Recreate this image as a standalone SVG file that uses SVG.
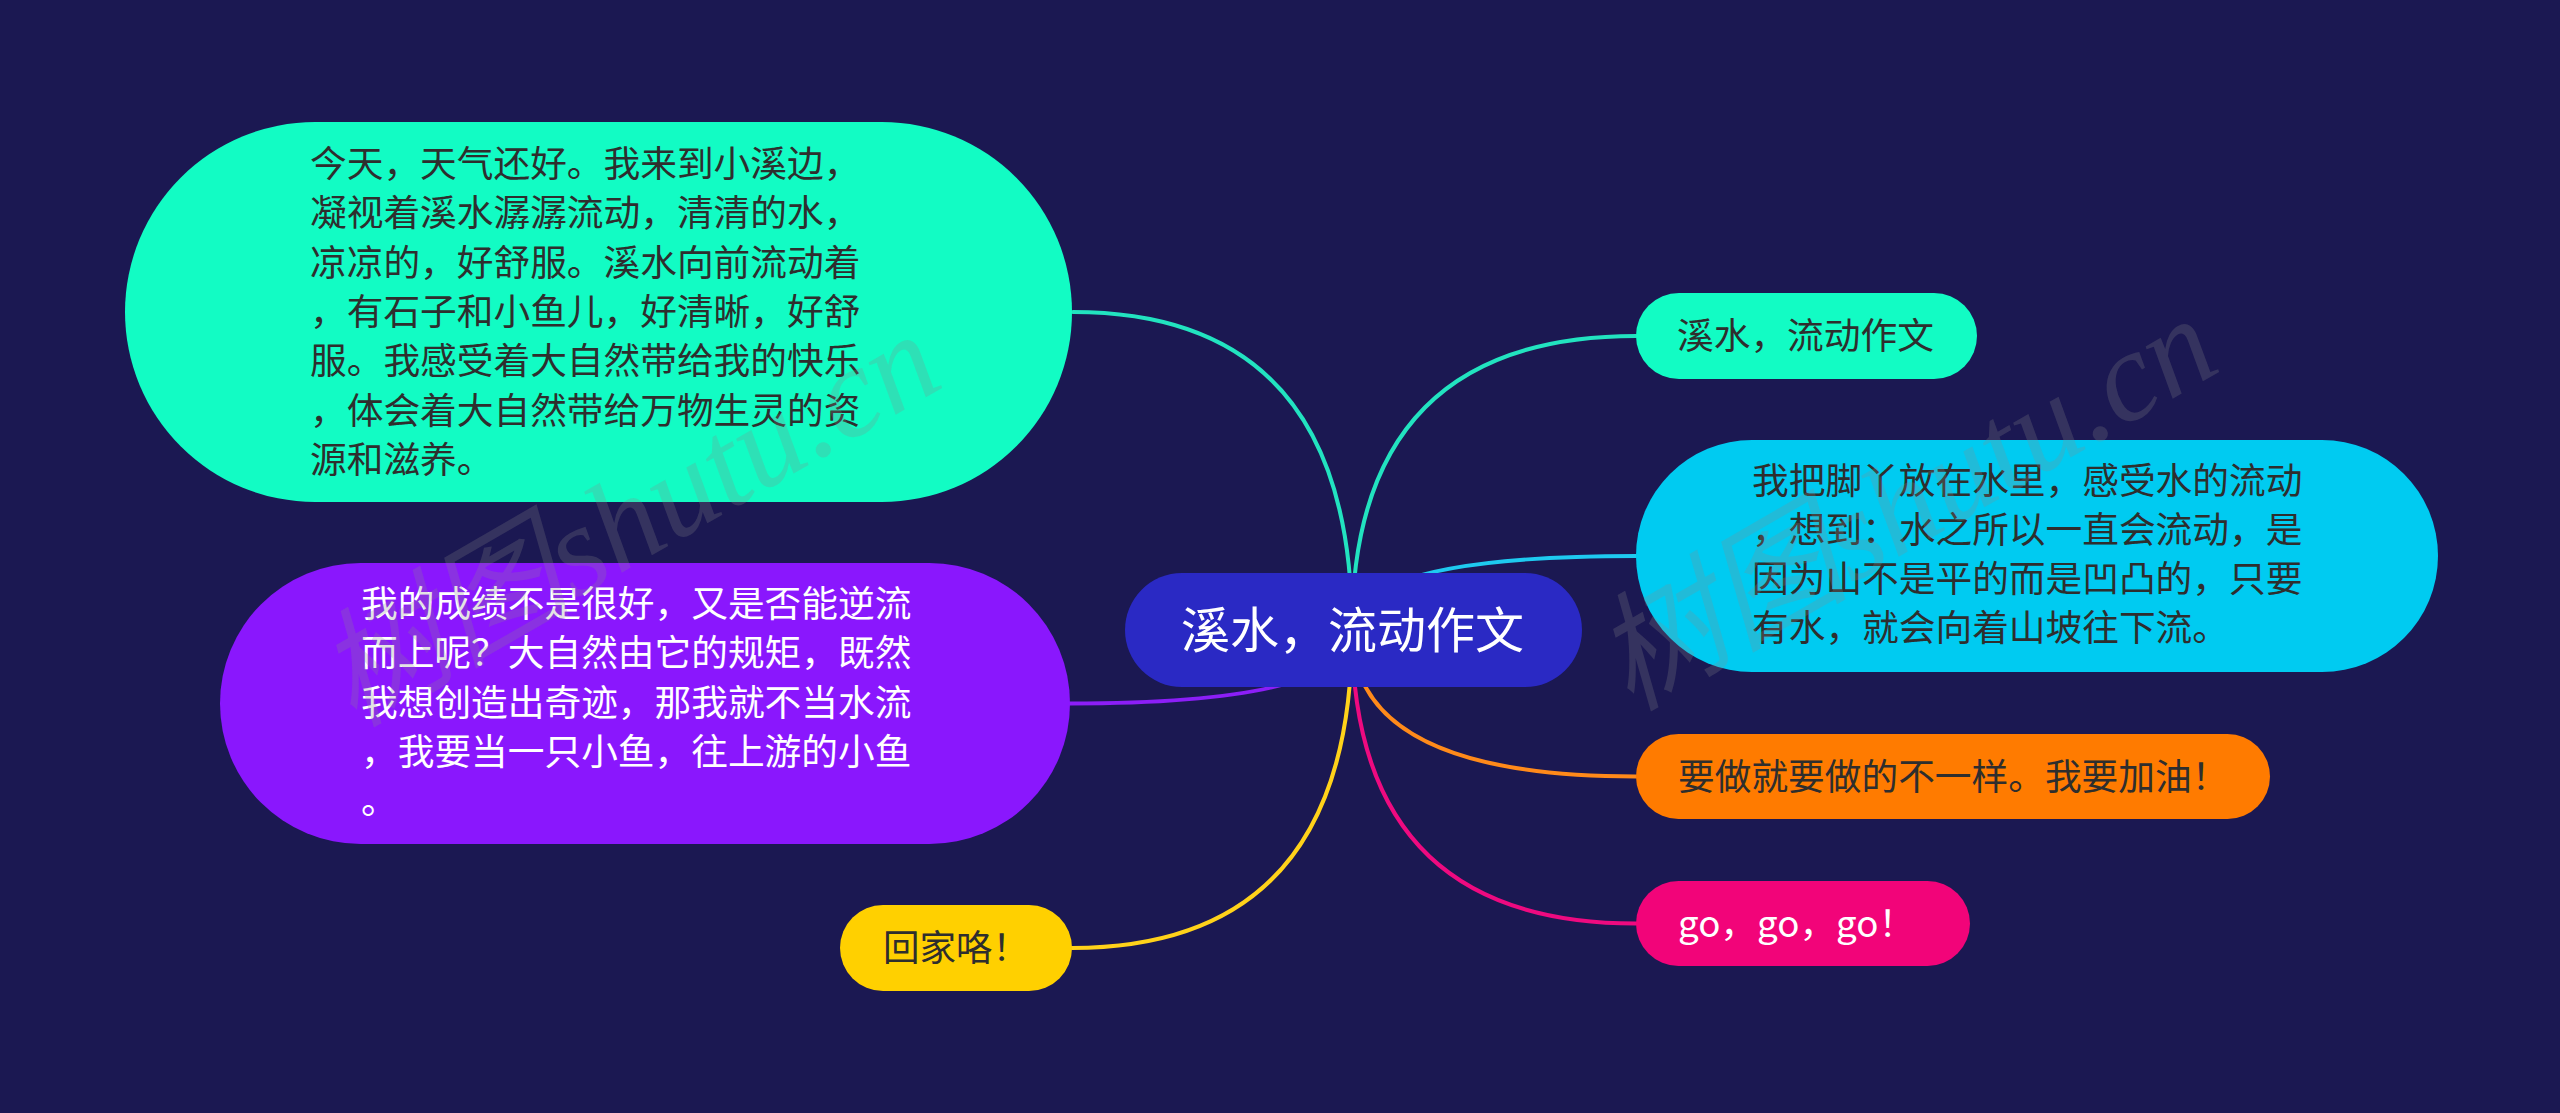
<svg xmlns="http://www.w3.org/2000/svg" width="2560" height="1113" viewBox="0 0 2560 1113">
<style>
.t{font-family:"Noto Sans CJK SC","Noto Sans",sans-serif;font-size:36.7px}
.dk{fill:#2e2e2e}
.wt{fill:#ffffff}
.ln{fill:none;stroke-width:4;stroke-linecap:round}
.wm{font-family:"Liberation Serif","Noto Sans CJK SC",serif;font-style:italic;font-size:128px;fill:#8a8a8a;fill-opacity:0.24}
</style>
<rect x="0" y="0" width="2560" height="1113" fill="#1b1852"/>
<g id="connectors">
<path class="ln" stroke="#22e3c0" d="M1352,630 Q1352,312 1073,312"/>
<path class="ln" stroke="#22e3c0" d="M1352,630 Q1352,336 1636,336"/>
<path class="ln" stroke="#1ecaf0" d="M1352,630 Q1352,556 1636,556"/>
<path class="ln" stroke="#8c1ef7" d="M1352,630 Q1352,703.5 1070,703.5"/>
<path class="ln" stroke="#ff8a1a" d="M1352,630 Q1352,776.5 1636,776.5"/>
<path class="ln" stroke="#ee0a80" d="M1352,630 Q1352,923.5 1636,923.5"/>
<path class="ln" stroke="#ffd21a" d="M1352,630 Q1352,948 1072,948"/>
</g>
<g id="center">
<rect x="1125" y="573" width="457" height="114" rx="57" fill="#2a29c4"/>
<text class="t wt" x="1181" y="648" style="font-size:49px">溪水，流动作文</text>
</g>
<g id="n1">
<rect x="125" y="122" width="947" height="380" rx="190" fill="#12fcc4"/>
<text class="t dk" x="310">
<tspan x="310" y="177">今天，天气还好。我来到小溪边，</tspan>
<tspan x="310" y="226">凝视着溪水潺潺流动，清清的水，</tspan>
<tspan x="310" y="276">凉凉的，好舒服。溪水向前流动着</tspan>
<tspan x="310" y="325">，有石子和小鱼儿，好清晰，好舒</tspan>
<tspan x="310" y="374">服。我感受着大自然带给我的快乐</tspan>
<tspan x="310" y="424">，体会着大自然带给万物生灵的资</tspan>
<tspan x="310" y="473">源和滋养。</tspan>
</text>
</g>
<g id="n2">
<rect x="220" y="563" width="850" height="281" rx="140.5" fill="#8a17fd"/>
<text class="t wt">
<tspan x="361" y="617">我的成绩不是很好，又是否能逆流</tspan>
<tspan x="361" y="666">而上呢？大自然由它的规矩，既然</tspan>
<tspan x="361" y="716">我想创造出奇迹，那我就不当水流</tspan>
<tspan x="361" y="765">，我要当一只小鱼，往上游的小鱼</tspan>
<tspan x="361" y="814">。</tspan>
</text>
</g>
<g id="n3">
<rect x="840" y="905" width="232" height="86" rx="43" fill="#ffd000"/>
<text class="t dk" x="883" y="961" style="font-size:36.5px">回家咯！</text>
</g>
<g id="n4">
<rect x="1636" y="293" width="341" height="86" rx="43" fill="#12fcc4"/>
<text class="t dk" x="1677" y="349">溪水，流动作文</text>
</g>
<g id="n5">
<rect x="1636" y="440" width="802" height="232" rx="116" fill="#00cbf1"/>
<text class="t dk">
<tspan x="1752" y="494">我把脚丫放在水里，感受水的流动</tspan>
<tspan x="1752" y="543">，想到：水之所以一直会流动，是</tspan>
<tspan x="1752" y="592">因为山不是平的而是凹凸的，只要</tspan>
<tspan x="1752" y="641">有水，就会向着山坡往下流。</tspan>
</text>
</g>
<g id="n6">
<rect x="1636" y="734" width="634" height="85" rx="42.5" fill="#ff7b00"/>
<text class="t dk" x="1678" y="790">要做就要做的不一样。我要加油！</text>
</g>
<g id="n7">
<rect x="1636" y="881" width="334" height="85" rx="42.5" fill="#f20479"/>
<text class="t wt" x="1678" y="937">go，go，go！</text>
</g>
<g id="watermark">
<text class="wm" x="353" y="728" transform="rotate(-30 353 728)">树图shutu.cn</text>
<text class="wm" x="1630" y="712" transform="rotate(-30 1630 712)">树图shutu.cn</text>
</g>
</svg>
